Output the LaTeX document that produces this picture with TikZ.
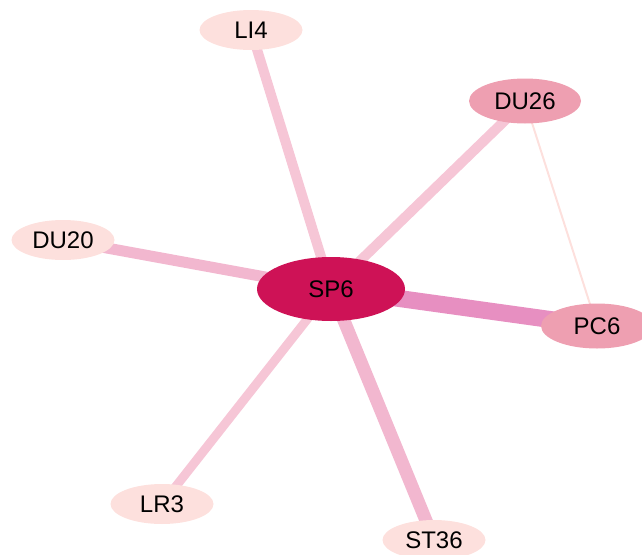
\documentclass[tikz,border=0pt]{standalone}
\usepackage{fontspec}
\setmainfont{Liberation Sans}
\usetikzlibrary{shapes.geometric,backgrounds}
\definecolor{hubfill}{HTML}{CE1256}
\definecolor{midfill}{HTML}{EE9FB1}
\definecolor{lowfill}{HTML}{FDE0DD}
\definecolor{edgestrong}{HTML}{E78FC1}
\definecolor{edgemid}{HTML}{F2B7CF}
\definecolor{edgelight}{HTML}{F6C6D6}
\definecolor{edgefaint}{HTML}{FDE0DD}
\tikzset{
  acunode/.style={ellipse, inner sep=0pt, font=\fontsize{24}{26}\selectfont, text=black},
  hub/.style={acunode, fill=hubfill, minimum width=148pt, minimum height=64pt},
  mid/.style={acunode, fill=midfill, minimum width=112pt, minimum height=45pt},
  low/.style={acunode, fill=lowfill, minimum width=103pt, minimum height=40pt},
  link/.style={line cap=round}
}
\begin{document}
\begin{tikzpicture}[x=1pt,y=-1pt]
\useasboundingbox (0,0) rectangle (642,554);
\clip (0,0) rectangle (642,554);
\node[hub] (SP6) at (331,289) {SP6};
\node[low] (LI4) at (251,30) {LI4};
\node[mid] (DU26) at (525,101) {DU26};
\node[low] (DU20) at (63,240) {DU20};
\node[mid] (PC6) at (597,326) {PC6};
\node[low] (LR3) at (162,504) {LR3};
\node[low] (ST36) at (434,540) {ST36};
\begin{scope}[on background layer]
  \draw[link, edgestrong, line width=17pt] (SP6.center) -- (PC6.center);
  \draw[link, edgemid, line width=13pt] (SP6.center) -- (ST36.center);
  \draw[link, edgemid, line width=11pt] (SP6.center) -- (DU20.center);
  \draw[link, edgelight, line width=10pt] (SP6.center) -- (LI4.center);
  \draw[link, edgelight, line width=10pt] (SP6.center) -- (DU26.center);
  \draw[link, edgelight, line width=9pt] (SP6.center) -- (LR3.center);
  \draw[link, edgefaint, line width=2pt] (DU26.center) -- (PC6.center);
\end{scope}
\end{tikzpicture}
\end{document}
